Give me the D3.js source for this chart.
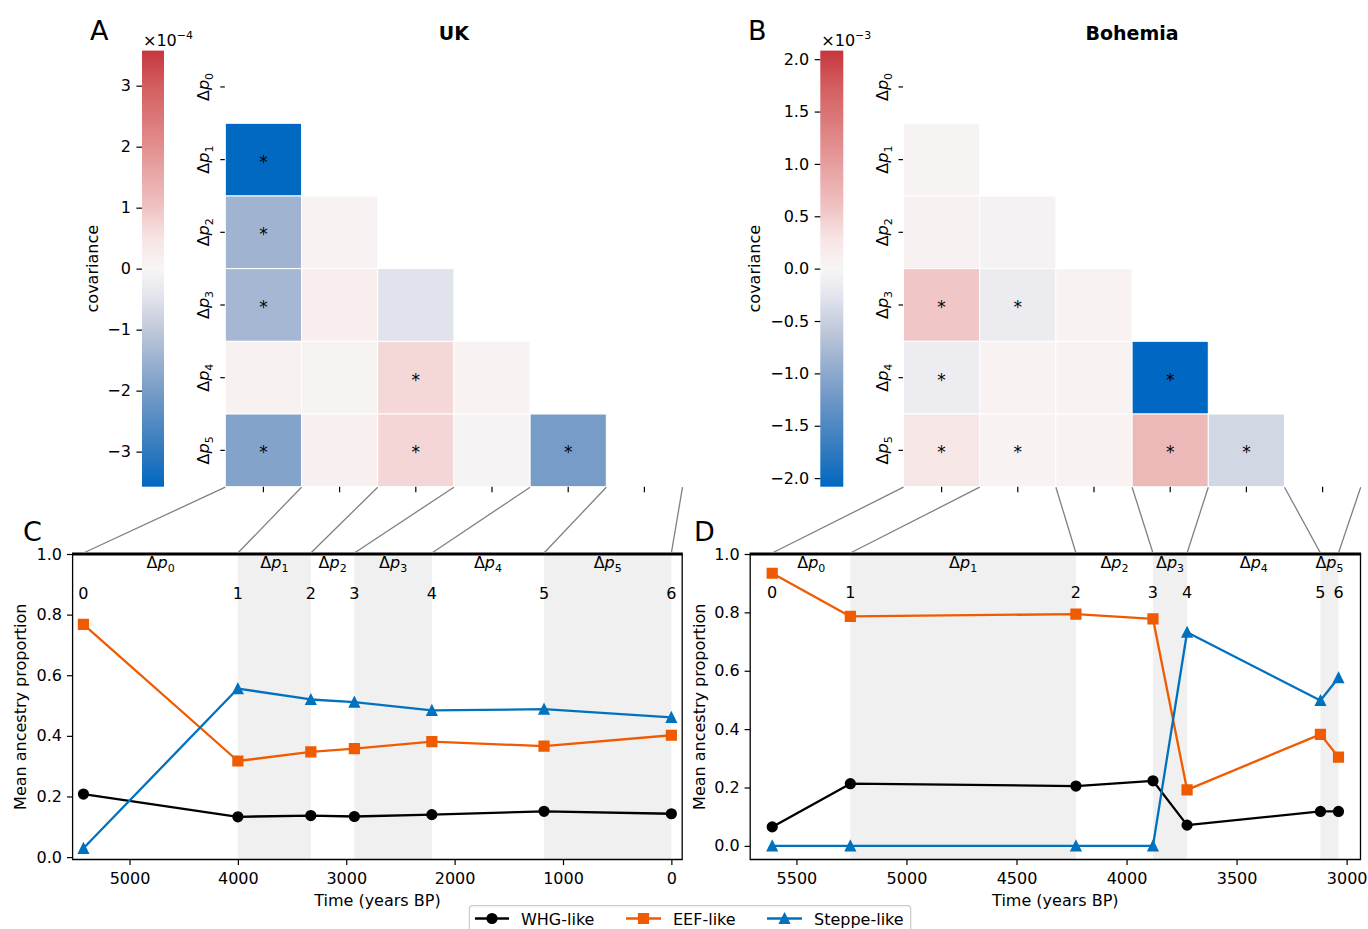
<!DOCTYPE html>
<html><head><meta charset="utf-8">
<script src="https://cdn.jsdelivr.net/npm/d3@7"></script>
<style>
body{margin:0;background:#fff;}
text{font-family:"DejaVu Sans",sans-serif;fill:#000;}
</style>
</head><body>
<svg id="fig" width="1368" height="929"></svg>
<script>
// ---------------- DATA ----------------
const intervals = [0, 1, 2, 3, 4, 5];
const timePointLabels = ["0", "1", "2", "3", "4", "5", "6"];
const seriesNames = ["WHG-like", "EEF-like", "Steppe-like"];

// UK covariance of Δp (×1e-4), lower triangle (row i, col j<i)
const ukCov = [
  [],
  [-3.55],
  [-1.45, 0.10],
  [-1.38, 0.20, -0.50],
  [0.12, 0.05, 0.68, 0.10],
  [-1.85, 0.14, 0.72, -0.06, -2.00]
];
const ukSig = [[], [1], [1, 0], [1, 0, 0], [0, 0, 1, 0], [1, 0, 1, 0, 1]];
const ukCbarTicks = [-3, -2, -1, 0, 1, 2, 3];
const ukVmax = 3.575;

// Bohemia covariance of Δp (×1e-3)
const bohCov = [
  [],
  [0.04],
  [0.07, -0.04],
  [0.56, -0.15, 0.05],
  [-0.13, 0.06, 0.05, -2.08],
  [0.25, 0.06, 0.06, 0.71, -0.42]
];
const bohSig = [[], [0], [0, 0], [1, 1, 0], [1, 0, 0, 1], [1, 1, 0, 1, 1]];
const bohCbarTicks = [-2, -1.5, -1, -0.5, 0, 0.5, 1, 1.5, 2];
const bohVmax = 2.082;

// UK mean ancestry through time
const ukTimes = [5425, 4000, 3327, 2925, 2210, 1175, 0];
const ukWHG = [0.208, 0.133, 0.137, 0.134, 0.140, 0.151, 0.143];
const ukEEF = [0.768, 0.317, 0.347, 0.358, 0.381, 0.366, 0.402];
const ukSteppe = [0.029, 0.556, 0.520, 0.511, 0.484, 0.488, 0.461];
const ukXTicks = [5000, 4000, 3000, 2000, 1000, 0];

// Bohemia mean ancestry through time
const bohTimes = [5610, 5255, 4230, 3880, 3725, 3119, 3037];
const bohWHG = [0.065, 0.213, 0.205, 0.223, 0.071, 0.118, 0.118];
const bohEEF = [0.934, 0.786, 0.794, 0.778, 0.192, 0.382, 0.304];
const bohSteppe = [0.0, 0.0, 0.0, 0.0, 0.732, 0.498, 0.576];
const bohXTicks = [5500, 5000, 4500, 4000, 3500, 3000];

const yTicks = [0, 0.2, 0.4, 0.6, 0.8, 1.0];

// ---------------- STYLE ----------------
const seriesColors = ["#000000", "#f05a00", "#0072bd"];
const seriesMarkers = ["circle", "square", "triangle"];
const cmapT = [-1, -0.84, -0.56, -0.28, -0.14, 0, 0.14, 0.28, 0.56, 0.84, 1];
const cmapC = ["#0068c2", "#2f79be", "#789cc8", "#c0c8da", "#e0e2ec", "#f8f5f5",
               "#f7e4e4", "#f0c3c3", "#e38f8f", "#d35d5f", "#c4373e"];
const FS = 16;

const svg = d3.select("#fig");
const defs = svg.append("defs");

function deltaLabel(sel, i, subSize) {
  sel.append("tspan").text("Δ");
  sel.append("tspan").attr("font-style", "italic").text("p");
  sel.append("tspan").attr("font-size", subSize).attr("dy", 4).text(i);
}

// ---------------- HEATMAP ----------------
function drawHeatmap(cfg) {
  const g = svg.append("g");
  const x = d3.scaleBand().domain(intervals).range([cfg.x0, cfg.x1]);
  const y = d3.scaleBand().domain(intervals).range([cfg.y0, cfg.y1]);
  const color = d3.scaleLinear().domain(cmapT.map(t => t * cfg.vmax)).range(cmapC)
    .interpolate(d3.interpolateRgb).clamp(true);

  const cells = [];
  cfg.cov.forEach((row, i) => row.forEach((v, j) => cells.push({i, j, v, s: cfg.sig[i][j]})));

  g.selectAll("rect.cell").data(cells).join("rect")
    .attr("x", d => x(d.j)).attr("y", d => y(d.i))
    .attr("width", x.bandwidth()).attr("height", y.bandwidth())
    .attr("fill", d => color(d.v)).attr("stroke", "#fff").attr("stroke-width", 1);

  g.selectAll("text.star").data(cells.filter(d => d.s)).join("text")
    .attr("x", d => x(d.j) + x.bandwidth() / 2)
    .attr("y", d => y(d.i) + y.bandwidth() / 2 + 8)
    .attr("text-anchor", "middle").attr("font-size", 17).text("*");

  // y ticks + labels
  intervals.forEach(i => {
    const cy = y(i) + y.bandwidth() / 2;
    g.append("line").attr("x1", cfg.x0 - 5).attr("x2", cfg.x0 - 0.5)
      .attr("y1", cy).attr("y2", cy).attr("stroke", "#000").attr("stroke-width", 1.2);
    const t = g.append("text").attr("transform", `translate(${cfg.x0 - 16},${cy}) rotate(-90)`)
      .attr("text-anchor", "middle").attr("font-size", FS).attr("y", 0);
    deltaLabel(t, i, 11);
  });
  // x ticks (no labels)
  intervals.forEach(i => {
    const cx = x(i) + x.bandwidth() / 2;
    g.append("line").attr("x1", cx).attr("x2", cx).attr("y1", cfg.y1).attr("y2", cfg.y1 + 5.6)
      .attr("stroke", "#000").attr("stroke-width", 1.2);
  });
  // title
  g.append("text").attr("x", (cfg.x0 + cfg.x1) / 2).attr("y", 40).attr("text-anchor", "middle")
    .attr("font-size", 19).attr("font-weight", "bold").text(cfg.title);

  // colorbar
  const gid = "grad" + cfg.id;
  const grad = defs.append("linearGradient").attr("id", gid)
    .attr("x1", 0).attr("y1", 1).attr("x2", 0).attr("y2", 0);
  cmapT.forEach((t, k) => grad.append("stop").attr("offset", (t + 1) / 2).attr("stop-color", cmapC[k]));
  g.append("rect").attr("x", cfg.cbX).attr("y", cfg.y0).attr("width", cfg.cbW)
    .attr("height", cfg.y1 - cfg.y0).attr("fill", `url(#${gid})`);
  const cy = d3.scaleLinear().domain([-cfg.vmax, cfg.vmax]).range([cfg.y1, cfg.y0]);
  const ax = g.append("g").attr("transform", `translate(${cfg.cbX},0)`)
    .call(d3.axisLeft(cy).tickValues(cfg.cbTicks).tickFormat(d3.format(cfg.cbFmt))
      .tickSize(5.6).tickPadding(5.6));
  ax.select(".domain").remove();
  ax.selectAll("text").attr("font-size", FS).attr("font-family", "DejaVu Sans");
  ax.selectAll("line").attr("stroke-width", 1.2);
  const mt = g.append("text").attr("x", cfg.cbX + 1).attr("y", 46).attr("font-size", FS);
  mt.append("tspan").text("×10");
  mt.append("tspan").attr("font-size", 11).attr("dy", -7).text(cfg.exp);
  g.append("text").attr("transform", `translate(${cfg.covLabX},268.7) rotate(-90)`)
    .attr("text-anchor", "middle").attr("dy", "0.35em").attr("font-size", FS).text("covariance");

  return {bounds: d3.range(7).map(k => cfg.x0 + k * x.step()), bottom: cfg.y1};
}

// ---------------- LINE PLOTS ----------------
function markerPath(type, cx, cy) {
  if (type === "circle") return null;
  if (type === "square") { const h = 4.8; return `M${cx-h},${cy-h}H${cx+h}V${cy+h}H${cx-h}Z`; }
  const h = 4.8; return `M${cx},${cy-h}L${cx+h},${cy+h}L${cx-h},${cy+h}Z`;
}
function drawMarker(g, type, cx, cy, col) {
  if (type === "circle") {
    g.append("circle").attr("cx", cx).attr("cy", cy).attr("r", 4.8)
      .attr("fill", col).attr("stroke", col).attr("stroke-width", 1.6);
  } else {
    g.append("path").attr("d", markerPath(type, cx, cy))
      .attr("fill", col).attr("stroke", col).attr("stroke-width", 1.6).attr("stroke-linejoin", "miter");
  }
}

function drawLines(cfg) {
  const g = svg.append("g");
  const x = d3.scaleLinear().domain([d3.max(cfg.times) + 100, d3.min(cfg.times) - 100])
    .range([cfg.left, cfg.right]);
  const all = cfg.series.flat();
  const lo = d3.min(all), hi = d3.max(all);
  const y = d3.scaleLinear().domain([lo - 0.05 * (hi - lo), 1.0]).range([cfg.bottom, cfg.top]);

  // shaded intervals
  [1, 3, 5].forEach(i => {
    g.append("rect").attr("x", x(cfg.times[i])).attr("y", cfg.top)
      .attr("width", x(cfg.times[i + 1]) - x(cfg.times[i])).attr("height", cfg.bottom - cfg.top)
      .attr("fill", "#f0f0f0");
  });

  // series
  cfg.series.forEach((vals, s) => {
    const pts = vals.map((v, k) => [x(cfg.times[k]), y(v)]);
    g.append("path").attr("d", d3.line()(pts)).attr("fill", "none")
      .attr("stroke", seriesColors[s]).attr("stroke-width", 2.3).attr("stroke-linejoin", "round");
    pts.forEach(p => drawMarker(g, seriesMarkers[s], p[0], p[1], seriesColors[s]));
  });

  // interval labels and time point labels
  intervals.forEach(i => {
    const t = g.append("text").attr("x", (x(cfg.times[i]) + x(cfg.times[i + 1])) / 2)
      .attr("y", y(0.97) + 5).attr("text-anchor", "middle").attr("font-size", FS);
    deltaLabel(t, i, 11);
  });
  timePointLabels.forEach((lab, k) => {
    g.append("text").attr("x", x(cfg.times[k])).attr("y", y(0.87) + 6)
      .attr("text-anchor", "middle").attr("font-size", FS).text(lab);
  });

  // axes
  const xa = g.append("g").attr("transform", `translate(0,${cfg.bottom})`)
    .call(d3.axisBottom(x).tickValues(cfg.xTicks).tickFormat(d3.format("d")).tickSize(5.6).tickPadding(7.5));
  xa.select(".domain").remove();
  const ya = g.append("g").attr("transform", `translate(${cfg.left},0)`)
    .call(d3.axisLeft(y).tickValues(yTicks).tickFormat(d3.format(".1f")).tickSize(5.6).tickPadding(5));
  ya.select(".domain").remove();
  [xa, ya].forEach(a => {
    a.selectAll("text").attr("font-size", FS).attr("font-family", "DejaVu Sans");
    a.selectAll("line").attr("stroke-width", 1.2);
  });
  // spines
  g.append("path").attr("d", `M${cfg.left},${cfg.top}V${cfg.bottom}H${cfg.right}V${cfg.top}`)
    .attr("fill", "none").attr("stroke", "#000").attr("stroke-width", 1.3);
  g.append("line").attr("x1", cfg.left - 0.6).attr("x2", cfg.right + 0.6)
    .attr("y1", cfg.top).attr("y2", cfg.top).attr("stroke", "#000").attr("stroke-width", 2.8);

  g.append("text").attr("transform", `translate(${cfg.yLabX},${(cfg.top + cfg.bottom) / 2}) rotate(-90)`)
    .attr("text-anchor", "middle").attr("dy", "0.35em").attr("font-size", FS).text("Mean ancestry proportion");
  g.append("text").attr("x", (cfg.left + cfg.right) / 2).attr("y", 906)
    .attr("text-anchor", "middle").attr("font-size", FS).text("Time (years BP)");

  return {x, pts: cfg.times.map(t => x(t))};
}

// ---------------- BUILD ----------------
const hmA = drawHeatmap({id: "A", title: "UK", cov: ukCov, sig: ukSig, vmax: ukVmax,
  x0: 225.3, x1: 682.5, y0: 50.6, y1: 486.7, cbX: 142, cbW: 22,
  cbTicks: ukCbarTicks, cbFmt: "d", exp: "−4", covLabX: 92});
const hmB = drawHeatmap({id: "B", title: "Bohemia", cov: bohCov, sig: bohSig, vmax: bohVmax,
  x0: 903.5, x1: 1360.7, y0: 50.6, y1: 486.7, cbX: 820.3, cbW: 23,
  cbTicks: bohCbarTicks, cbFmt: ".1f", exp: "−3", covLabX: 754});

const lpC = drawLines({times: ukTimes, series: [ukWHG, ukEEF, ukSteppe], xTicks: ukXTicks,
  left: 72.6, right: 682.2, top: 554, bottom: 859.5, yLabX: 20});
const lpD = drawLines({times: bohTimes, series: [bohWHG, bohEEF, bohSteppe], xTicks: bohXTicks,
  left: 750.2, right: 1360.5, top: 554, bottom: 859.5, yLabX: 699});

// connecting lines
[[hmA, lpC], [hmB, lpD]].forEach(([hm, lp]) => {
  hm.bounds.forEach((bx, k) => {
    svg.append("line").attr("x1", bx).attr("y1", hm.bottom + 0.5)
      .attr("x2", lp.pts[k]).attr("y2", 553).attr("stroke", "#808080").attr("stroke-width", 1.3);
  });
});

// panel letters
[["A", 90, 40], ["B", 748, 40], ["C", 23, 541], ["D", 694, 541]].forEach(([l, x, y]) => {
  svg.append("text").attr("x", x).attr("y", y).attr("font-size", 27).text(l);
});

// legend
const lg = svg.append("g");
lg.append("rect").attr("x", 469.3).attr("y", 905.7).attr("width", 441.4).attr("height", 36)
  .attr("rx", 3).attr("fill", "#fff").attr("stroke", "#cccccc").attr("stroke-width", 1.2);
const legX = [[475, 509, 521], [626, 661, 673], [767, 802, 814]];
seriesNames.forEach((name, s) => {
  const [a, b, tx] = legX[s];
  const cy = 918.5;
  lg.append("line").attr("x1", a).attr("x2", b).attr("y1", cy).attr("y2", cy)
    .attr("stroke", seriesColors[s]).attr("stroke-width", 2.3);
  drawMarker(lg, seriesMarkers[s], (a + b) / 2, cy, seriesColors[s]);
  lg.append("text").attr("x", tx).attr("y", cy + 6).attr("font-size", FS).text(name);
});
</script>
</body></html>
